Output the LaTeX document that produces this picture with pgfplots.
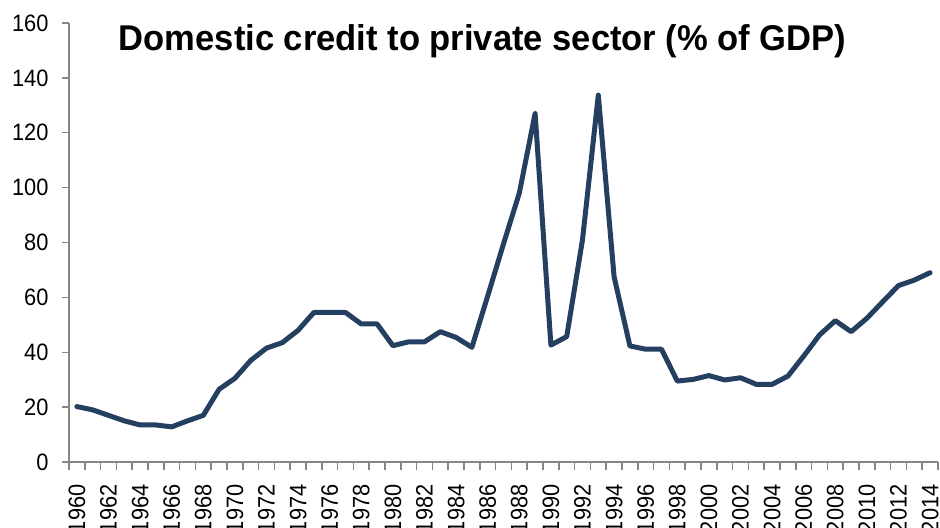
\documentclass[border=0pt]{standalone}
\usepackage{fontspec}
\setmainfont{Liberation Sans}
\newfontfamily\tickfont{Liberation Sans}[FakeStretch=0.92]
\newfontfamily\titlefont{Liberation Sans}[FakeStretch=0.965]
\usepackage{pgfplots}
\usepackage{pgfplotstable}
\pgfplotsset{compat=1.18}
\definecolor{navy}{HTML}{243F60}
\definecolor{axgray}{HTML}{868686}

\pgfplotstableread{
year value
1960 20.2
1961 19.0
1962 17.0
1963 15.0
1964 13.5
1965 13.5
1966 12.8
1967 15.0
1968 17.0
1969 26.5
1970 30.5
1971 37.0
1972 41.5
1973 43.5
1974 48.0
1975 54.5
1976 54.5
1977 54.5
1978 50.3
1979 50.3
1980 42.4
1981 43.8
1982 43.8
1983 47.5
1984 45.4
1985 41.8
1986 60.5
1987 79.5
1988 98.0
1989 127.0
1990 42.6
1991 45.7
1992 81.0
1993 133.7
1994 67.5
1995 42.3
1996 41.1
1997 41.1
1998 29.5
1999 30.1
2000 31.5
2001 29.9
2002 30.7
2003 28.3
2004 28.3
2005 31.3
2006 38.6
2007 46.3
2008 51.5
2009 47.5
2010 52.4
2011 58.4
2012 64.3
2013 66.3
2014 69.0
}\datatable

\begin{document}
\begin{tikzpicture}
\begin{axis}[
  name=ax, at={(0,0)}, anchor=south west,
  scale only axis, width=869pt, height=439pt,
  xmin=1959.5, xmax=2014.5, ymin=0, ymax=160,
  axis x line*=bottom, axis y line*=left,
  axis line style={-, draw=axgray, line width=2pt},
  ytick={0,20,...,160},
  xtick={1960,1962,...,2014},
  minor xtick={1959.5,1960.5,...,2014.5},
  tick align=outside,
  major tick length=7pt,
  minor tick length=8pt,
  ytick style={draw=axgray, line width=1.5pt},
  major x tick style={draw=none},
  minor x tick style={draw=axgray, line width=1.5pt},
  /pgf/number format/assume math mode=true,
  /pgf/number format/1000 sep={},
  tick label style={font=\tickfont\fontsize{23.7}{25}\selectfont, text=black},
  yticklabel style={xshift=-10pt},
  xticklabel style={rotate=90, anchor=east, xshift=-12pt},
  title={Domestic credit to private sector (\% of GDP)},
  title style={at={(rel axis cs:0.476,0.945)}, anchor=center,
    font=\titlefont\bfseries\fontsize{35.8}{40}\selectfont},
  clip=false,
]
\addplot[navy, line width=5pt, line join=round, line cap=round] table[x=year, y=value] {\datatable};
\end{axis}
\pgfresetboundingbox
\path[use as bounding box] ([xshift=-69pt,yshift=-65pt]ax.south west) rectangle ([xshift=2pt,yshift=23pt]ax.north east);
\end{tikzpicture}
\end{document}
